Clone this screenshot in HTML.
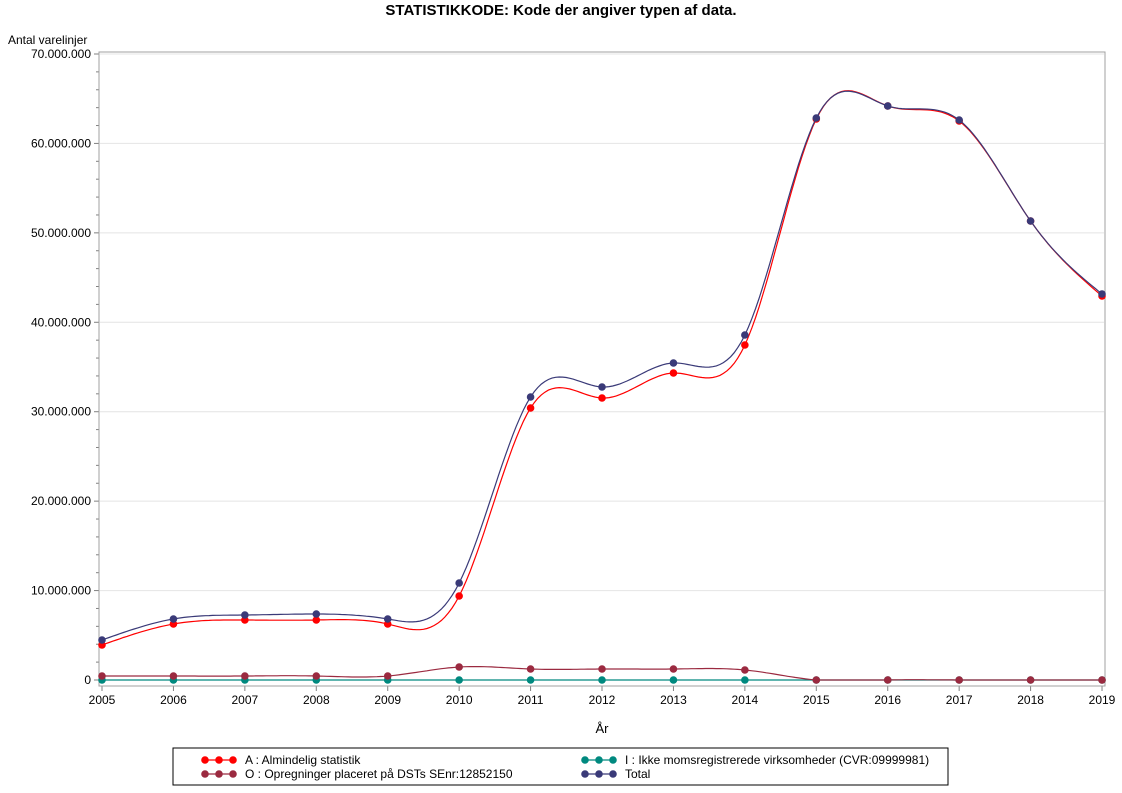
<!DOCTYPE html>
<html><head><meta charset="utf-8"><style>
body{margin:0;background:#fff;}
svg{display:block;font-family:"Liberation Sans",Arial,sans-serif;}
</style></head><body>
<svg id="s" width="1122" height="793" xmlns="http://www.w3.org/2000/svg">
<text x="561" y="15" font-size="15" font-weight="bold" text-anchor="middle">STATISTIKKODE: Kode der angiver typen af data.</text>
<text x="8" y="44" font-size="12">Antal varelinjer</text>
<g id="grid"></g>
<rect x="99" y="52" width="1006" height="634" fill="none" stroke="#a0a0a0"/>
<g id="series"></g>
<text x="602" y="733" font-size="13" text-anchor="middle">År</text>
<rect x="173" y="748" width="775" height="37" fill="none" stroke="#000"/>
<g id="leg"></g>
</svg>
<script>
const NS="http://www.w3.org/2000/svg";
function el(p,t,a,txt){const e=document.createElementNS(NS,t);for(const k in a)e.setAttribute(k,a[k]);if(txt!==undefined)e.textContent=txt;p.appendChild(e);return e;}
const g=document.getElementById('grid');
const y0=680, per=89.43;
const labs=["0","10.000.000","20.000.000","30.000.000","40.000.000","50.000.000","60.000.000","70.000.000"];
for(let i=0;i<=7;i++){const y=y0-i*per;
 if(i>0)el(g,'line',{x1:100,x2:1104,y1:y,y2:y,stroke:'#e4e4e4'});
 el(g,'line',{x1:94,x2:99,y1:y,y2:y,stroke:'#808080'});
 el(g,'text',{x:91,y:y+4,'font-size':12,'text-anchor':'end'},labs[i]);
 if(i<7)for(let j=1;j<5;j++){const yy=y-j*per/5;el(g,'line',{x1:96,x2:99,y1:yy,y2:yy,stroke:'#808080'});}
}
for(let i=0;i<15;i++){const x=102+i*71.43;el(g,'line',{x1:x,x2:x,y1:686,y2:691,stroke:'#808080'});
 el(g,'text',{x:x,y:704,'font-size':12,'text-anchor':'middle'},2005+i);}
const X=[];for(let i=0;i<15;i++)X.push(102+i*71.43);
const D={
 A:{c:'#ff0000',y:[645,624,620,620,624,596,408,398,373,345,119,106,121,221,296]},
 O:{c:'#9b2a40',y:[676,676,676,676,676,667,669,669,669,670,680,680,680,680,680]},
 I:{c:'#00897f',y:[680,680,680,680,680,680,680,680,680,680,680,680,680,680,680]},
 T:{c:'#3a3a78',y:[640,619,615,614,619,583,397,387,363,335,118,106,120,221,294]}
};
function spline(xs,ys){const n=xs.length,h=[],al=[],l=[1],mu=[0],z=[0],c=new Array(n).fill(0),b=[],d=[];
 for(let i=0;i<n-1;i++)h.push(xs[i+1]-xs[i]);
 for(let i=1;i<n-1;i++)al[i]=3/h[i]*(ys[i+1]-ys[i])-3/h[i-1]*(ys[i]-ys[i-1]);
 for(let i=1;i<n-1;i++){l[i]=2*(xs[i+1]-xs[i-1])-h[i-1]*mu[i-1];mu[i]=h[i]/l[i];z[i]=(al[i]-h[i-1]*z[i-1])/l[i];}
 l[n-1]=1;z[n-1]=0;c[n-1]=0;
 for(let j=n-2;j>=0;j--){c[j]=z[j]-mu[j]*c[j+1];b[j]=(ys[j+1]-ys[j])/h[j]-h[j]*(c[j+1]+2*c[j])/3;d[j]=(c[j+1]-c[j])/(3*h[j]);}
 let p='M'+xs[0]+','+ys[0];
 for(let i=0;i<n-1;i++)for(let t=1;t<=20;t++){const dx=h[i]*t/20;const y=ys[i]+b[i]*dx+c[i]*dx*dx+d[i]*dx*dx*dx;p+=' L'+(xs[i]+dx).toFixed(1)+','+Math.min(680,y).toFixed(1);}
 return p;}
const s=document.getElementById('series');
for(const k of ['I','O','A','T']){const o=D[k];
 const flat=(k==='I');
 el(s,'path',{d:flat?'M102,680 L1102,680':spline(X,o.y),fill:'none',stroke:o.c,'stroke-width':1.2});
 for(let i=0;i<15;i++)el(s,'circle',{cx:X[i],cy:o.y[i],r:3.8,fill:o.c});
}
const lg=document.getElementById('leg');
function li(x,y,c,t){el(lg,'line',{x1:x,x2:x+28,y1:y,y2:y,stroke:c,'stroke-width':1.2});
 for(let j=0;j<3;j++)el(lg,'circle',{cx:x+j*14,cy:y,r:3.8,fill:c});
 el(lg,'text',{x:x+40,y:y+4,'font-size':12},t);}
li(205,760,'#ff0000','A : Almindelig statistik');
li(205,774,'#9b2a40','O : Opregninger placeret på DSTs SEnr:12852150');
li(585,760,'#00897f','I : Ikke momsregistrerede virksomheder (CVR:09999981)');
li(585,774,'#3a3a78','Total');
</script>
</body></html>
